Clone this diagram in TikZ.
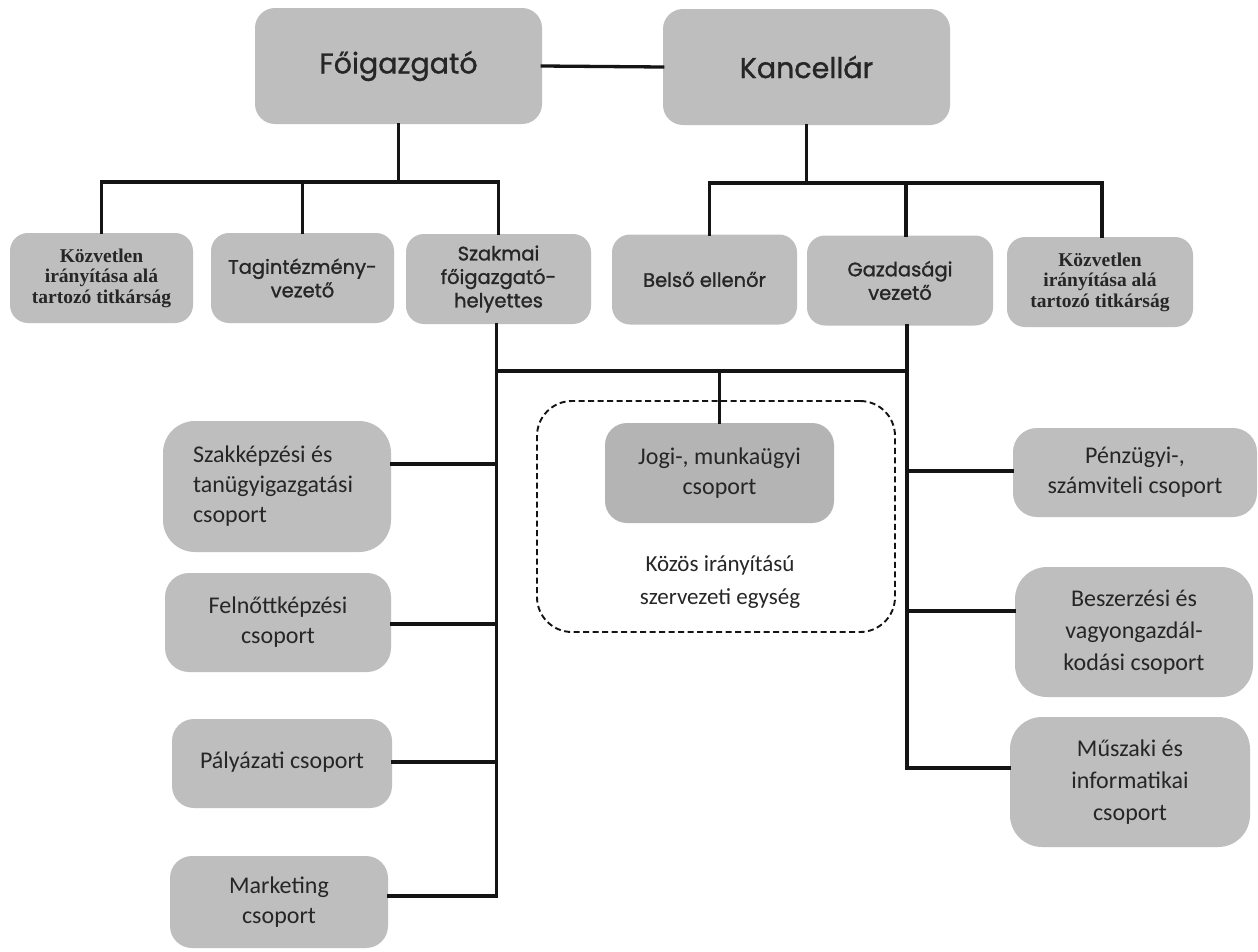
\documentclass[tikz,border=0pt]{standalone}
\usepackage{fontspec}
\setmainfont{Carlito}
\newfontfamily\gothic[FakeBold=1.2]{Poppins}
\newfontfamily\calfont{Carlito}
\newfontfamily\tnr{Liberation Serif}
\definecolor{boxfill}{RGB}{190,190,190}
\definecolor{jogifill}{RGB}{180,180,180}
\definecolor{txt}{RGB}{38,38,38}
\definecolor{ln}{RGB}{20,20,20}
\begin{document}
\begin{tikzpicture}[x=1pt,y=-1pt,
  box/.style={fill=boxfill, draw=none, rounded corners=#1, align=center, inner sep=0pt, text=txt},
  box/.default=18pt,
  conn/.style={draw=ln, line width=3.3pt, line cap=rect},
  gtop/.style={font=\gothic\fontsize{28.5}{32}\selectfont},
  gmid/.style={font=\gothic\fontsize{19.5}{23.5}\selectfont},
  tb/.style={font=\tnr\bfseries\fontsize{19.5}{20.5}\selectfont, text=black!85},
  cal/.style={font=\calfont\fontsize{24}{30}\selectfont}]
\useasboundingbox[fill=white] (0,0) rectangle (1258,951);

% top row
\node[box=20pt, gtop, minimum width=287pt, minimum height=116pt] (fo) at (398.5,66) {Főigazgató};
\node[box=20pt, gtop, minimum width=287pt, minimum height=116pt] (kanc) at (806.5,67) {Kancellár};

% second row
\node[box, tb, minimum width=183pt, minimum height=90pt] (kl) at (101.5,278) {Közvetlen\\irányítása alá\\tartozó titkárság};
\node[box, gmid, minimum width=183pt, minimum height=90pt] (tag) at (302.5,278) {Tagintézmény-\\vezető};
\node[box, gmid, minimum width=185pt, minimum height=90pt] (szak) at (498.5,279) {Szakmai\\főigazgató-\\helyettes};
\node[box, gmid, minimum width=185pt, minimum height=90pt] (bel) at (704.5,279.5) {Belső ellenőr};
\node[box, gmid, minimum width=186pt, minimum height=90pt] (gazd) at (900,280.5) {Gazdasági\\vezető};
\node[box, tb, minimum width=186pt, minimum height=90pt] (kr) at (1100,282) {Közvetlen\\irányítása alá\\tartozó titkárság};

% left group
\node[box=32pt, cal, align=flush left, text width=168pt, minimum width=228pt, minimum height=131pt] (szk) at (277,486.5) {Szakképzési és\\tanügyigazgatási\\csoport};
\node[box=24pt, cal, minimum width=226pt, minimum height=99pt] (fel) at (278,622.5) {Felnőttképzési\\csoport};
\node[box=22pt, cal, minimum width=220pt, minimum height=89pt] (pal) at (282,763.5) {\raisebox{6pt}{Pályázati csoport}};
\node[box=22pt, cal, minimum width=218pt, minimum height=92pt] (mkt) at (279,902) {Marketing\\csoport};

% middle
\node[draw=ln, dash pattern=on 6pt off 3.5pt, line width=1.9pt, rounded corners=35pt, minimum width=358pt, minimum height=231pt, inner sep=0pt] (kozos) at (716,516.5) {};
\node[box=22pt, cal, fill=jogifill, minimum width=229pt, minimum height=100pt] (jogi) at (719.5,473) {Jogi-, munkaügyi\\csoport};
\node[align=center, text=txt, font=\calfont\fontsize{23}{33}\selectfont] (kozlbl) at (720,582) {Közös irányítású\\szervezeti egység};

% right group
\node[box=24pt, cal, minimum width=244pt, minimum height=89pt] (pen) at (1135,472.5) {Pénzügyi-,\\számviteli csoport};
\node[box=32pt, cal, font=\calfont\fontsize{24}{32}\selectfont, minimum width=238pt, minimum height=130pt] (besz) at (1134,632) {Beszerzési és\\vagyongazdál-\\kodási csoport};
\node[box=32pt, cal, font=\calfont\fontsize{24}{32}\selectfont, minimum width=240pt, minimum height=130pt] (mus) at (1130,782) {Műszaki és\\informatikai\\csoport};

% helper coordinates
\coordinate (barL) at (0,182);
\coordinate (barR) at (0,183);
\coordinate (barM) at (0,371);
\coordinate (ySzk) at (0,464);
\coordinate (yFel) at (0,624);
\coordinate (yPal) at (0,762);
\coordinate (yMkt) at (0,896);
\coordinate (yPen) at (0,471);
\coordinate (yBesz) at (0,611);
\coordinate (yMus) at (0,768);
\coordinate (tL) at ([xshift=-2pt]szak.south);
\coordinate (tR) at ([xshift=7pt]gazd.south);
\coordinate (belTop) at ([xshift=5pt]bel.north);
\coordinate (gazdTop) at ([xshift=6pt]gazd.north);
\coordinate (krTop) at ([xshift=2pt]kr.north);

% connectors
\draw[conn] (fo.east) -- (kanc.west);
\draw[conn] (fo.south) -- (fo.south |- barL);
\draw[conn] (kl.north) -- (kl.north |- barL) -- (szak.north |- barL) -- (szak.north);
\draw[conn] (tag.north) -- (tag.north |- barL);

\draw[conn] (kanc.south) -- (kanc.south |- barR);
\draw[conn] (belTop) -- (belTop |- barR) -- (krTop |- barR) -- (krTop);
\draw[conn] (gazdTop) -- (gazdTop |- barR);

\draw[conn] (tL) -- (tL |- yMkt) -- (mkt.east |- yMkt);
\draw[conn] (szk.east |- ySzk) -- (tL |- ySzk);
\draw[conn] (fel.east |- yFel) -- (tL |- yFel);
\draw[conn] (pal.east |- yPal) -- (tL |- yPal);

\draw[conn] (tR) -- (tR |- yMus) -- (mus.west |- yMus);
\draw[conn] (tR |- yPen) -- (pen.west |- yPen);
\draw[conn] (tR |- yBesz) -- (besz.west |- yBesz);

\draw[conn] (tL |- barM) -- (tR |- barM);
\draw[conn] (jogi.north |- barM) -- (jogi.north);
\end{tikzpicture}
\end{document}
